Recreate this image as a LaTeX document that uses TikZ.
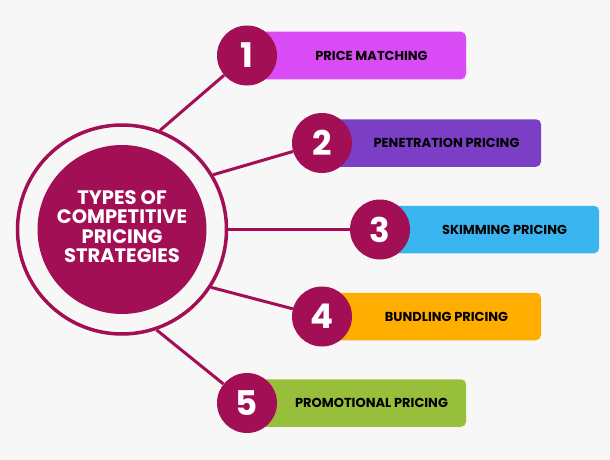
\documentclass[tikz,border=0pt]{standalone}
\usepackage{fontspec}
\setmainfont{Poppins}
\definecolor{bgc}{HTML}{F7F7F7}
\definecolor{crim}{HTML}{A30F55}
\definecolor{c1}{HTML}{D94CF5}
\definecolor{c2}{HTML}{7B3FC5}
\definecolor{c3}{HTML}{3BB5EF}
\definecolor{c4}{HTML}{FFAE00}
\definecolor{c5}{HTML}{98BF3B}
\tikzset{
  numc/.style={circle, fill=crim, minimum size=60pt, inner sep=0pt, text=white, font=\bfseries\fontsize{34}{34}\selectfont},
  boxr/.style={rectangle, rounded corners=5pt, minimum width=219pt, minimum height=47.5pt, inner sep=0pt, font=\bfseries\fontsize{13}{13}\selectfont, text=black},
  link/.style={draw=crim, line width=3pt},
}
\begin{document}
\begin{tikzpicture}[x=1pt,y=-1pt]
\fill[bgc] (0,0) rectangle (610,460);
\useasboundingbox (0,0) rectangle (610,460);
% boxes
\node[boxr, fill=c1] (b1) at (356.5,55.5) {\hspace*{30pt}PRICE MATCHING};
\node[boxr, fill=c2] (b2) at (431.5,143) {\hspace*{30pt}PENETRATION PRICING};
\node[boxr, fill=c3] (b3) at (489.5,229.5) {\hspace*{30pt}SKIMMING PRICING};
\node[boxr, fill=c4] (b4) at (431.5,316.5) {\hspace*{30pt}BUNDLING PRICING};
\node[boxr, fill=c5] (b5) at (356.5,403) {\hspace*{30pt}PROMOTIONAL PRICING};
% centre
\node[circle, draw=crim, line width=3.5pt, minimum size=209pt, inner sep=0pt] (ring) at (122,229.5) {};
\node[circle, fill=crim, minimum size=169pt, inner sep=0pt, text=white,
  font=\bfseries\fontsize{19.5}{19}\selectfont] (c) at (122,229.5)
  {\raisebox{5pt}{\begin{tabular}{@{}c@{}}TYPES OF\\COMPETITIVE\\PRICING\\STRATEGIES\end{tabular}}};
% numbered circles
\node[numc] (n1) at (247,55.5) {1};
\node[numc] (n2) at (322,143) {2};
\node[numc] (n3) at (380,229.5) {3};
\node[numc] (n4) at (322,316.5) {4};
\node[numc] (n5) at (247,403) {5};
% links
\draw[link] (ring.69) -- (n1);
\draw[link] (ring.31) -- (n2);
\draw[link] (ring.0) -- (n3);
\draw[link] (ring.-33) -- (n4);
\draw[link] (ring.-71) -- (n5);
\end{tikzpicture}
\end{document}
